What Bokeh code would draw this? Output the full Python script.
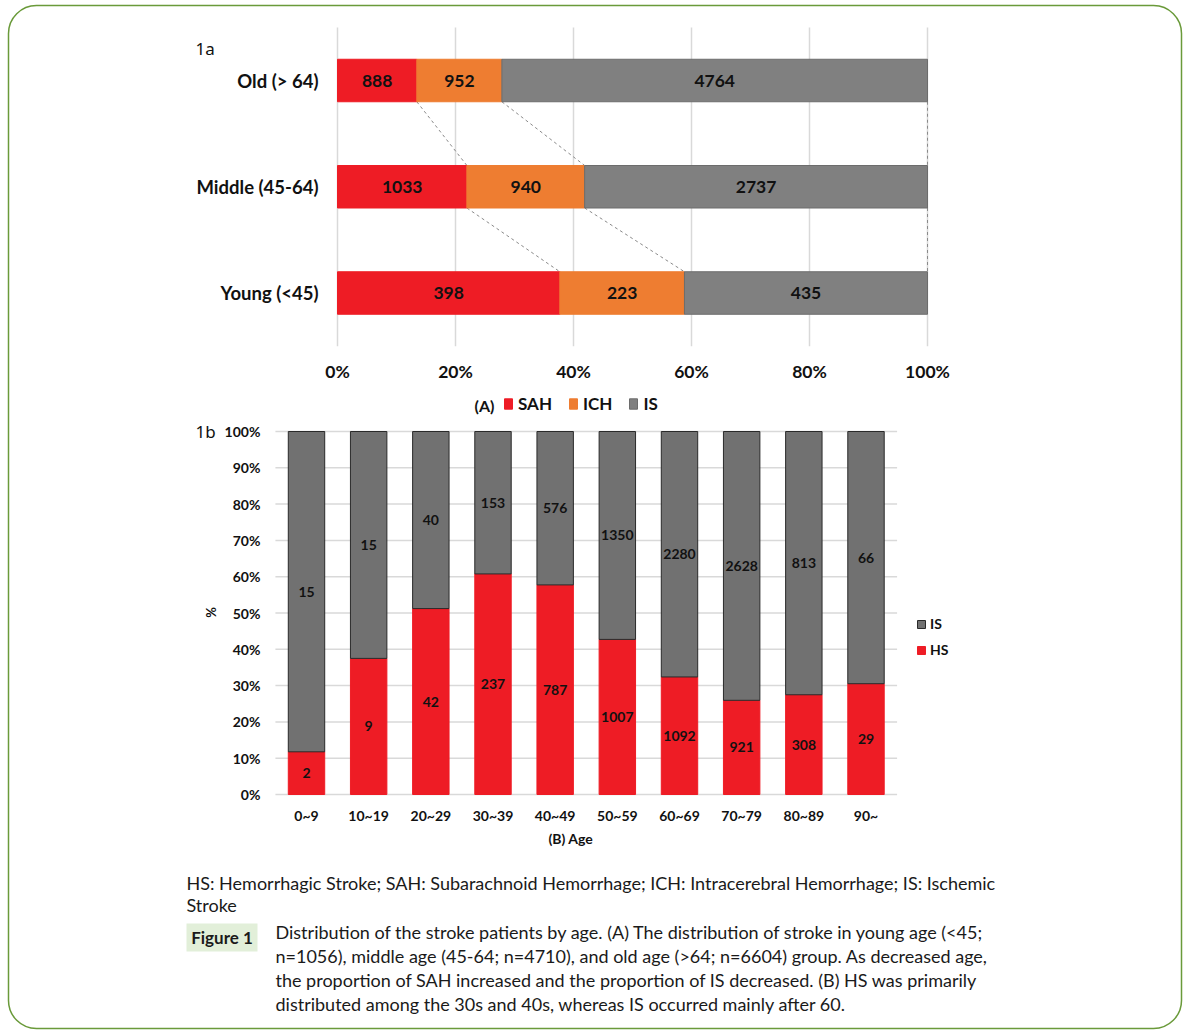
import math
from bokeh.plotting import figure
from bokeh.models import ColumnDataSource, Range1d, Legend, LegendItem, BoxAnnotation
from bokeh.embed import file_html
from bokeh.resources import INLINE
from bokeh.core.properties import value

# ---------------- data ----------------
groups_a = ["Old (> 64)", "Middle (45-64)", "Young (<45)"]
sah_a = [888, 1033, 398]
ich_a = [952, 940, 223]
is_a = [4764, 2737, 435]
ticks_a = [0, 20, 40, 60, 80, 100]
series_a = ["SAH", "ICH", "IS"]

ages_b = ["0~9", "10~19", "20~29", "30~39", "40~49", "50~59", "60~69", "70~79", "80~89", "90~"]
hs_b = [2, 9, 42, 237, 787, 1007, 1092, 921, 308, 29]
is_b = [15, 15, 40, 153, 576, 1350, 2280, 2628, 813, 66]
ticks_b = [0, 10, 20, 30, 40, 50, 60, 70, 80, 90, 100]
series_b = ["HS", "IS"]

note_lines = ["HS: Hemorrhagic Stroke; SAH: Subarachnoid Hemorrhage; ICH: Intracerebral Hemorrhage; IS: Ischemic",
              "Stroke"]
fig_tag = "Figure 1"
caption_lines = ["Distribution of the stroke patients by age. (A) The distribution of stroke in young age (<45;",
                 "n=1056), middle age (45-64; n=4710), and old age (>64; n=6604) group. As decreased age,",
                 "the proportion of SAH increased and the proportion of IS decreased. (B) HS was primarily",
                 "distributed among the 30s and 40s, whereas IS occurred mainly after 60."]

# ---------------- style / layout ----------------
FONT = "Lato"
RED = "#EE1C25"
ORANGE = "#EE7D31"
GRAY_A = "#808080"
GRAY_B = "#717171"
GRID = "#D9D9D9"
TXT = "#111111"
W, H = 1184, 1030


def x_range_px(v0, p0, v1, p1):
    k = (p1 - p0) / (v1 - v0)
    return Range1d(start=v0 - p0 / k, end=v0 + (W - p0) / k)


def y_range_px(v0, p0, v1, p1):
    k = (p1 - p0) / (v1 - v0)
    top = v0 - p0 / k
    bottom = v0 + (H - p0) / k
    return Range1d(start=bottom, end=top)


p = figure(width=W, height=H, x_range=Range1d(0, W), y_range=Range1d(H, 0),
           x_axis_type=None, y_axis_type=None, min_border=0,
           output_backend="svg", toolbar_location=None)
p.outline_line_color = None
p.grid.visible = False
p.background_fill_color = "white"

# chart A scales: 0% at x=337, 100% at x=927 ; Young(0) at y=292.5, Old(2) at y=80
p.extra_x_ranges["xa"] = x_range_px(0, 337, 100, 927)
p.extra_y_ranges["ya"] = y_range_px(0, 292.5, 2, 80)
# chart B scales: first age at x=306, last at x=865.5 ; 0% at y=794, 100% at y=431
p.extra_x_ranges["xb"] = x_range_px(0, 306, len(ages_b) - 1, 865.5)
p.extra_y_ranges["yb"] = y_range_px(0, 794, 100, 431)

A = dict(x_range_name="xa", y_range_name="ya")
B = dict(x_range_name="xb", y_range_name="yb")

# ================= chart A =================
n = len(groups_a)
ypos = list(range(n - 1, -1, -1))          # Old at top
tot_a = [a + b + c for a, b, c in zip(sah_a, ich_a, is_a)]
pct = {
    "SAH": [100 * v / t for v, t in zip(sah_a, tot_a)],
    "ICH": [100 * v / t for v, t in zip(ich_a, tot_a)],
    "IS": [100 * v / t for v, t in zip(is_a, tot_a)],
}
src_a = ColumnDataSource(dict(y=ypos, **pct))
BH = 0.4

# vertical gridlines
p.segment(x0=ticks_a, x1=ticks_a, y0=[-0.5] * len(ticks_a), y1=[n - 0.5] * len(ticks_a),
          line_color=GRID, line_width=1.5, **A)

# dashed connectors between bar boundaries
bounds = [[pct["SAH"][i], pct["SAH"][i] + pct["ICH"][i], 100.0] for i in range(n)]
sx0, sy0, sx1, sy1 = [], [], [], []
for i in range(n - 1):
    for k in range(3):
        sx0.append(bounds[i][k]); sy0.append(ypos[i] - BH / 2)
        sx1.append(bounds[i + 1][k]); sy1.append(ypos[i + 1] + BH / 2)
p.segment(x0=sx0, y0=sy0, x1=sx1, y1=sy1, line_color="#8a8a8a", line_width=1, line_dash="3 3", **A)

rs_a = p.hbar_stack(series_a, y="y", height=BH, source=src_a,
                    fill_color=[RED, ORANGE, GRAY_A], line_color=[RED, ORANGE, "#6c6c6c"],
                    line_width=1, **A)

lx, ly, lt = [], [], []
counts = {"SAH": sah_a, "ICH": ich_a, "IS": is_a}
for i in range(n):
    left = 0.0
    for s in series_a:
        lx.append(left + pct[s][i] / 2)
        ly.append(ypos[i])
        lt.append(str(counts[s][i]))
        left += pct[s][i]
p.text(x=lx, y=ly, text=lt, text_align="center", text_baseline="middle",
       text_font=value(FONT), text_font_style="bold", text_font_size="17.5px", text_color=TXT, **A)

# category labels (left axis)
p.text(x=[0] * n, y=ypos, text=groups_a, x_offset=-19, text_align="right", text_baseline="middle",
       text_font=value(FONT), text_font_style="bold", text_font_size="18.5px", text_color=TXT, **A)
# percent tick labels (bottom axis)
p.text(x=ticks_a, y=[-0.5] * len(ticks_a), text=[f"{t}%" for t in ticks_a], y_offset=25,
       text_align="center", text_baseline="middle",
       text_font=value(FONT), text_font_style="bold", text_font_size="17.5px", text_color=TXT, **A)

# legend location = bottom-left corner of the legend box, measured from the canvas bottom
leg_a = Legend(items=[LegendItem(label=s, renderers=[r]) for s, r in zip(series_a, rs_a)],
               orientation="horizontal", location=(503, H - 414),
               glyph_width=10, glyph_height=13, label_standoff=5, spacing=16,
               padding=0, margin=0, border_line_alpha=0, background_fill_alpha=0,
               label_text_font=FONT, label_text_font_style="bold", label_text_font_size="17px",
               label_height=18, label_text_color=TXT)
p.add_layout(leg_a)
p.text(x=[474], y=[405], text=["(A)"], text_baseline="middle",
       text_font=value(FONT), text_font_style="bold", text_font_size="16px", text_color=TXT)
p.text(x=[195], y=[48], text=["1a"], text_baseline="middle",
       text_font=value("Noto Sans"), text_font_size="17px", text_color=TXT)

# ================= chart B =================
m = len(ages_b)
xidx = list(range(m))
tot_b = [a + b for a, b in zip(hs_b, is_b)]
pct_b = {"HS": [100 * v / t for v, t in zip(hs_b, tot_b)],
         "IS": [100 * v / t for v, t in zip(is_b, tot_b)]}
src_b = ColumnDataSource(dict(x=xidx, **pct_b))

# horizontal gridlines
p.segment(x0=[-0.5] * len(ticks_b), x1=[m - 0.5] * len(ticks_b), y0=ticks_b, y1=ticks_b,
          line_color=GRID, line_width=1.5, **B)

rs_b = p.vbar_stack(series_b, x="x", width=0.586, source=src_b,
                    fill_color=[RED, GRAY_B], line_color=[RED, "#2a2a2a"], line_width=1, **B)

bx, by, bt = [], [], []
counts_b = {"HS": hs_b, "IS": is_b}
for i in xidx:
    bottom = 0.0
    for s in series_b:
        bx.append(i)
        by.append(bottom + pct_b[s][i] / 2)
        bt.append(str(counts_b[s][i]))
        bottom += pct_b[s][i]
p.text(x=bx, y=by, text=bt, text_align="center", text_baseline="middle",
       text_font=value(FONT), text_font_style="bold", text_font_size="14px", text_color=TXT, **B)

# y tick labels
p.text(x=[-0.5] * len(ticks_b), y=ticks_b, text=[f"{t}%" for t in ticks_b], x_offset=-15,
       text_align="right", text_baseline="middle",
       text_font=value(FONT), text_font_style="bold", text_font_size="14px", text_color=TXT, **B)
# x tick labels
p.text(x=xidx, y=[0] * m, text=ages_b, y_offset=21, text_align="center", text_baseline="middle",
       text_font=value(FONT), text_font_style="bold", text_font_size="14px", text_color=TXT, **B)

leg_b = Legend(items=[LegendItem(label="IS", renderers=[rs_b[1]]),
                      LegendItem(label="HS", renderers=[rs_b[0]])],
               location=(916, H - 658), glyph_width=10, glyph_height=10, label_standoff=4,
               spacing=9, label_height=16, padding=0, margin=0,
               border_line_alpha=0, background_fill_alpha=0,
               label_text_font=FONT, label_text_font_style="bold", label_text_font_size="14px",
               label_text_color=TXT)
p.add_layout(leg_b)

p.text(x=[210], y=[612], text=["%"], angle=math.pi / 2, text_align="center", text_baseline="middle",
       text_font=value(FONT), text_font_style="bold", text_font_size="13px", text_color=TXT)
p.text(x=[572], y=[838], text=["(B)  Age"], text_align="center", text_baseline="middle",
       text_font=value(FONT), text_font_style="bold", text_font_size="14px", text_color=TXT)
p.text(x=[195], y=[431], text=["1b"], text_baseline="middle",
       text_font=value("Noto Sans"), text_font_size="17px", text_color=TXT)

# ================= caption =================
p.text(x=[186, 186], y=[882, 904], text=note_lines, text_baseline="middle",
       text_font=value(FONT), text_font_size="18px", text_color="#1a1a1a")
p.quad(left=[186], right=[257], top=[923], bottom=[951], fill_color="#E2EFD9", line_color=None)
p.text(x=[221.5], y=[937], text=[fig_tag], text_align="center", text_baseline="middle",
       text_font=value(FONT), text_font_style="bold", text_font_size="17px", text_color="#1a1a1a")
p.text(x=[275] * len(caption_lines), y=[931, 955, 979, 1003], text=caption_lines, text_baseline="middle",
       text_font=value(FONT), text_font_size="18px", text_color="#1a1a1a")

# rounded page frame
p.add_layout(BoxAnnotation(left=8, right=1181, top=5, bottom=1028, fill_alpha=0,
                           line_color="#6A9A3A", line_alpha=1.0, line_width=1.5, border_radius=28))

open("out.html", "w").write(file_html(p, INLINE))
